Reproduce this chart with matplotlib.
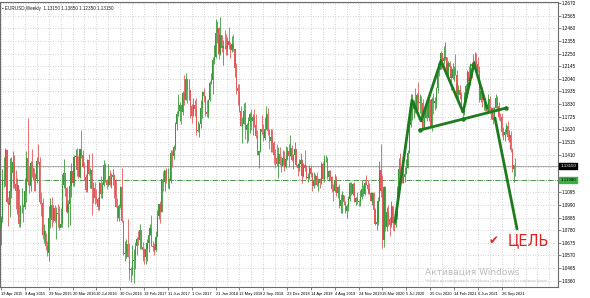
import numpy as np
import matplotlib.pyplot as plt

# EURUSD weekly candles, first bar = week of 19 Apr 2015
first_open = 1.0810
closes = [
    1.0873, 1.1198, 1.1200, 1.1447, 1.1015, 1.0986, 1.1110, 1.1260, 1.1350, 1.1165,
    1.1110, 1.1160, 1.0830, 1.0980, 1.0985, 1.0970, 1.1105, 1.1385, 1.1185, 1.1150,
    1.1340, 1.1295, 1.1195, 1.1210, 1.1360, 1.1350, 1.1015, 1.1005, 1.0740, 1.0770,
    1.0645, 1.0590, 1.0880, 1.0990, 1.0865, 1.0965, 1.0860, 1.0920, 1.0915, 1.0800,
    1.0830, 1.1155, 1.1255, 1.1130, 1.0930, 1.1000, 1.1150, 1.1270, 1.1170, 1.1390,
    1.1400, 1.1285, 1.1225, 1.1455, 1.1405, 1.1310, 1.1220, 1.1115, 1.1365, 1.1250,
    1.1280, 1.1120, 1.1135, 1.1050, 1.1040, 1.0975, 1.1175, 1.1085, 1.1160, 1.1325,
    1.1195, 1.1155, 1.1230, 1.1155, 1.1225, 1.1240, 1.1200, 1.0970, 1.0880, 1.0985,
    1.1140, 1.0855, 1.0585, 1.0590, 1.0665, 1.0560, 1.0450, 1.0455, 1.0520, 1.0530,
    1.0645, 1.0705, 1.0695, 1.0785, 1.0640, 1.0615, 1.0560, 1.0620, 1.0670, 1.0740,
    1.0800, 1.0650, 1.0640, 1.0615, 1.0725, 1.0895, 1.0995, 1.0935, 1.1205, 1.1180,
    1.1280, 1.1195, 1.1195, 1.1195, 1.1425, 1.1400, 1.1470, 1.1665, 1.1750, 1.1775,
    1.1820, 1.1760, 1.1925, 1.1860, 1.2035, 1.1945, 1.1950, 1.1815, 1.1730, 1.1820,
    1.1785, 1.1605, 1.1610, 1.1665, 1.1795, 1.1930, 1.1895, 1.1765, 1.1745, 1.1860,
    1.2005, 1.2030, 1.2200, 1.2220, 1.2425, 1.2460, 1.2250, 1.2405, 1.2295, 1.2315,
    1.2310, 1.2290, 1.2355, 1.2325, 1.2280, 1.2330, 1.2290, 1.2130, 1.1960, 1.1940,
    1.1770, 1.1650, 1.1660, 1.1770, 1.1610, 1.1655, 1.1685, 1.1745, 1.1685, 1.1720,
    1.1655, 1.1565, 1.1410, 1.1440, 1.1620, 1.1600, 1.1550, 1.1625, 1.1745, 1.1605,
    1.1525, 1.1560, 1.1510, 1.1405, 1.1385, 1.1335, 1.1415, 1.1335, 1.1315, 1.1380,
    1.1305, 1.1370, 1.1440, 1.1395, 1.1465, 1.1365, 1.1405, 1.1455, 1.1325, 1.1295,
    1.1335, 1.1365, 1.1235, 1.1325, 1.1300, 1.1215, 1.1215, 1.1300, 1.1245, 1.1150,
    1.1200, 1.1235, 1.1155, 1.1205, 1.1170, 1.1335, 1.1210, 1.1370, 1.1370, 1.1225,
    1.1270, 1.1220, 1.1125, 1.1110, 1.1200, 1.1090, 1.1140, 1.0985, 1.1030, 1.1075,
    1.1015, 1.0940, 1.0980, 1.1040, 1.1170, 1.1080, 1.1165, 1.1015, 1.1050, 1.1020,
    1.1015, 1.1060, 1.1120, 1.1080, 1.1175, 1.1160, 1.1120, 1.1090, 1.1025, 1.1090,
    1.0945, 1.0830, 1.0845, 1.1025, 1.1285, 1.1105, 1.0695, 1.1140, 1.0805, 1.0935,
    1.0875, 1.0820, 1.0980, 1.0840, 1.0820, 1.0900, 1.1100, 1.1290, 1.1255, 1.1175,
    1.1220, 1.1245, 1.1300, 1.1425, 1.1655, 1.1780, 1.1785, 1.1840, 1.1795, 1.1905,
    1.1835, 1.1845, 1.1840, 1.1630, 1.1715, 1.1825, 1.1715, 1.1860, 1.1645, 1.1875,
    1.1835, 1.1855, 1.1965, 1.2120, 1.2110, 1.2255, 1.2185, 1.2215, 1.2220, 1.2080,
    1.2170, 1.2135, 1.2045, 1.2120, 1.2120, 1.2075, 1.1915, 1.1950, 1.1905, 1.1795,
    1.1760, 1.1900, 1.1980, 1.2095, 1.2020, 1.2165, 1.2145, 1.2180, 1.2190, 1.2165,
    1.2105, 1.1860, 1.1935, 1.1865, 1.1875, 1.1805, 1.1770, 1.1870, 1.1760, 1.1795,
    1.1700, 1.1795, 1.1880, 1.1815, 1.1725, 1.1720, 1.1595, 1.1570, 1.1600, 1.1645,
    1.1560, 1.1570, 1.1445, 1.1290, 1.1320, 1.1315,
]
highs = [
    1.0900, 1.1290, 1.1391, 1.1467, 1.1440, 1.1060, 1.1385, 1.1386, 1.1436, 1.1408,
    1.1278, 1.1215, 1.1120, 1.0990, 1.1128, 1.1000, 1.1215, 1.1440, 1.1715, 1.1312,
    1.1360, 1.1460, 1.1295, 1.1260, 1.1390, 1.1495, 1.1390, 1.1095, 1.1045, 1.0830,
    1.0760, 1.0690, 1.0985, 1.1045, 1.1060, 1.0990, 1.0990, 1.0970, 1.0995, 1.0985,
    1.0965, 1.1245, 1.1375, 1.1260, 1.1140, 1.1030, 1.1215, 1.1340, 1.1290, 1.1410,
    1.1455, 1.1465, 1.1400, 1.1460, 1.1615, 1.1445, 1.1345, 1.1245, 1.1375, 1.1415,
    1.1300, 1.1425, 1.1185, 1.1185, 1.1120, 1.1060, 1.1185, 1.1235, 1.1180, 1.1365,
    1.1340, 1.1210, 1.1330, 1.1285, 1.1255, 1.1290, 1.1250, 1.1205, 1.1050, 1.1000,
    1.1145, 1.1300, 1.0865, 1.0690, 1.0710, 1.0875, 1.0670, 1.0475, 1.0655, 1.0625,
    1.0685, 1.0720, 1.0775, 1.0830, 1.0775, 1.0680, 1.0635, 1.0630, 1.0705, 1.0785,
    1.0830, 1.0905, 1.0690, 1.0675, 1.0775, 1.0950, 1.1000, 1.1025, 1.1210, 1.1270,
    1.1285, 1.1295, 1.1295, 1.1215, 1.1445, 1.1445, 1.1490, 1.1680, 1.1775, 1.1910,
    1.1845, 1.1825, 1.1940, 1.2070, 1.2090, 1.2035, 1.2035, 1.1950, 1.1830, 1.1880,
    1.1860, 1.1880, 1.1690, 1.1670, 1.1860, 1.1940, 1.1960, 1.1880, 1.1865, 1.1875,
    1.2025, 1.2090, 1.2220, 1.2325, 1.2535, 1.2520, 1.2475, 1.2555, 1.2405, 1.2365,
    1.2445, 1.2410, 1.2390, 1.2475, 1.2345, 1.2395, 1.2415, 1.2290, 1.2175, 1.1995,
    1.1995, 1.1815, 1.1720, 1.1840, 1.1850, 1.1675, 1.1720, 1.1760, 1.1790, 1.1745,
    1.1790, 1.1745, 1.1610, 1.1450, 1.1625, 1.1735, 1.1660, 1.1720, 1.1815, 1.1795,
    1.1625, 1.1620, 1.1620, 1.1525, 1.1455, 1.1500, 1.1475, 1.1470, 1.1400, 1.1445,
    1.1440, 1.1485, 1.1470, 1.1500, 1.1570, 1.1490, 1.1415, 1.1515, 1.1460, 1.1340,
    1.1370, 1.1420, 1.1375, 1.1340, 1.1450, 1.1325, 1.1255, 1.1325, 1.1325, 1.1265,
    1.1265, 1.1250, 1.1265, 1.1215, 1.1215, 1.1350, 1.1350, 1.1410, 1.1410, 1.1390,
    1.1285, 1.1285, 1.1230, 1.1165, 1.1250, 1.1230, 1.1150, 1.1165, 1.1085, 1.1110,
    1.1075, 1.1025, 1.1000, 1.1065, 1.1180, 1.1180, 1.1175, 1.1180, 1.1055, 1.1095,
    1.1035, 1.1115, 1.1200, 1.1155, 1.1190, 1.1240, 1.1200, 1.1175, 1.1100, 1.1095,
    1.1100, 1.0965, 1.0865, 1.1055, 1.1355, 1.1495, 1.1240, 1.1145, 1.1145, 1.0970,
    1.0990, 1.0890, 1.1020, 1.0980, 1.0875, 1.1010, 1.1145, 1.1385, 1.1425, 1.1350,
    1.1350, 1.1305, 1.1370, 1.1450, 1.1660, 1.1910, 1.1915, 1.1865, 1.1965, 1.1925,
    1.2010, 1.1915, 1.1900, 1.1870, 1.1770, 1.1830, 1.1880, 1.1880, 1.1860, 1.1890,
    1.1920, 1.1890, 1.1970, 1.2175, 1.2165, 1.2275, 1.2250, 1.2310, 1.2350, 1.2225,
    1.2190, 1.2190, 1.2150, 1.2170, 1.2145, 1.2245, 1.2110, 1.1990, 1.1990, 1.1930,
    1.1810, 1.1930, 1.1995, 1.2115, 1.2150, 1.2170, 1.2180, 1.2245, 1.2265, 1.2255,
    1.2220, 1.2145, 1.1970, 1.1975, 1.1895, 1.1880, 1.1830, 1.1910, 1.1900, 1.1805,
    1.1805, 1.1805, 1.1910, 1.1895, 1.1850, 1.1755, 1.1755, 1.1640, 1.1625, 1.1670,
    1.1690, 1.1615, 1.1605, 1.1465, 1.1325, 1.1385,
]
lows = [
    1.0660, 1.0845, 1.1140, 1.1145, 1.1010, 1.0819, 1.0886, 1.1050, 1.1135, 1.1130,
    1.0955, 1.0915, 1.0808, 1.0807, 1.0925, 1.0848, 1.0957, 1.1017, 1.1155, 1.1087,
    1.1105, 1.1220, 1.1105, 1.1105, 1.1170, 1.1330, 1.1000, 1.0895, 1.0710, 1.0675,
    1.0615, 1.0565, 1.0525, 1.0800, 1.0805, 1.0850, 1.0850, 1.0710, 1.0805, 1.0780,
    1.0810, 1.0810, 1.1135, 1.1065, 1.0925, 1.0810, 1.0820, 1.1055, 1.1145, 1.1145,
    1.1325, 1.1235, 1.1215, 1.1215, 1.1385, 1.1305, 1.1200, 1.1100, 1.1100, 1.1240,
    1.1130, 1.0910, 1.1010, 1.1000, 1.1010, 1.0950, 1.0950, 1.1045, 1.1045, 1.1150,
    1.1185, 1.1120, 1.1150, 1.1145, 1.1135, 1.1155, 1.1050, 1.0970, 1.0855, 1.0860,
    1.0965, 1.0850, 1.0570, 1.0520, 1.0545, 1.0555, 1.0365, 1.0350, 1.0405, 1.0340,
    1.0455, 1.0570, 1.0660, 1.0620, 1.0620, 1.0520, 1.0495, 1.0495, 1.0525, 1.0600,
    1.0740, 1.0645, 1.0605, 1.0570, 1.0605, 1.0820, 1.0875, 1.0840, 1.0930, 1.1110,
    1.1110, 1.1170, 1.1130, 1.1120, 1.1170, 1.1310, 1.1370, 1.1450, 1.1610, 1.1730,
    1.1690, 1.1660, 1.1740, 1.1820, 1.1860, 1.1835, 1.1860, 1.1715, 1.1670, 1.1730,
    1.1730, 1.1575, 1.1600, 1.1555, 1.1630, 1.1710, 1.1845, 1.1730, 1.1720, 1.1715,
    1.1855, 1.1995, 1.1915, 1.2165, 1.2210, 1.2335, 1.2205, 1.2235, 1.2260, 1.2155,
    1.2290, 1.2240, 1.2240, 1.2285, 1.2215, 1.2260, 1.2270, 1.2055, 1.1910, 1.1820,
    1.1760, 1.1645, 1.1510, 1.1660, 1.1540, 1.1505, 1.1525, 1.1590, 1.1610, 1.1575,
    1.1635, 1.1550, 1.1405, 1.1300, 1.1430, 1.1585, 1.1525, 1.1530, 1.1620, 1.1570,
    1.1460, 1.1430, 1.1430, 1.1335, 1.1300, 1.1315, 1.1215, 1.1325, 1.1265, 1.1320,
    1.1270, 1.1300, 1.1365, 1.1310, 1.1400, 1.1355, 1.1290, 1.1400, 1.1315, 1.1235,
    1.1275, 1.1325, 1.1175, 1.1225, 1.1275, 1.1210, 1.1185, 1.1205, 1.1225, 1.1110,
    1.1135, 1.1160, 1.1150, 1.1105, 1.1135, 1.1165, 1.1205, 1.1180, 1.1345, 1.1205,
    1.1190, 1.1200, 1.1100, 1.1025, 1.1095, 1.1065, 1.1050, 1.0965, 1.0925, 1.0925,
    1.0990, 1.0925, 1.0880, 1.0940, 1.1020, 1.1070, 1.1070, 1.1015, 1.0990, 1.1000,
    1.0980, 1.0980, 1.1040, 1.1065, 1.1070, 1.1155, 1.1085, 1.1085, 1.1020, 1.0990,
    1.0940, 1.0825, 1.0780, 1.0820, 1.1020, 1.1055, 1.0635, 1.0640, 1.0770, 1.0770,
    1.0815, 1.0730, 1.0810, 1.0780, 1.0775, 1.0810, 1.0870, 1.1095, 1.1215, 1.1170,
    1.1170, 1.1185, 1.1255, 1.1300, 1.1420, 1.1640, 1.1695, 1.1710, 1.1755, 1.1755,
    1.1780, 1.1755, 1.1735, 1.1610, 1.1625, 1.1715, 1.1690, 1.1690, 1.1640, 1.1605,
    1.1745, 1.1780, 1.1800, 1.1925, 1.2060, 1.2125, 1.2130, 1.2160, 1.2195, 1.2075,
    1.2055, 1.2060, 1.1950, 1.2040, 1.2025, 1.2070, 1.1895, 1.1835, 1.1875, 1.1760,
    1.1705, 1.1740, 1.1870, 1.1970, 1.2020, 1.1985, 1.2050, 1.2135, 1.2135, 1.2105,
    1.2095, 1.1845, 1.1850, 1.1805, 1.1780, 1.1775, 1.1750, 1.1755, 1.1755, 1.1705,
    1.1665, 1.1695, 1.1795, 1.1775, 1.1700, 1.1685, 1.1565, 1.1530, 1.1525, 1.1585,
    1.1535, 1.1515, 1.1430, 1.1265, 1.1185, 1.1235,
]
opens = [first_open] + closes[:-1]   # weekly FX bars open at the previous close

date_labels = ["19 Apr 2015", "9 Aug 2015", "29 Nov 2015", "20 Mar 2016", "10 Jul 2016",
               "30 Oct 2016", "19 Feb 2017", "11 Jun 2017", "1 Oct 2017", "21 Jan 2018",
               "13 May 2018", "2 Sep 2018", "23 Dec 2018", "14 Apr 2019", "4 Aug 2019",
               "24 Nov 2019", "15 Mar 2020", "5 Jul 2020", "25 Oct 2020", "14 Feb 2021",
               "6 Jun 2021", "26 Sep 2021"]
price_ticks = [1.2670, 1.2565, 1.2460, 1.2355, 1.2250, 1.2145, 1.2040, 1.1935, 1.1830,
               1.1725, 1.1620, 1.1515, 1.1410, 1.1305, 1.1200, 1.1095, 1.0990, 1.0885,
               1.0780, 1.0675, 1.0570, 1.0465, 1.0360]
level_price = 1.1198

# hand-drawn pattern lines (week index, price)
zigzag_w = [264.4, 275.8, 281.9, 295.3, 310.1, 317.4, 326.2]
zigzag_p = [1.0848, 1.1864, 1.1689, 1.2190, 1.1764, 1.2170, 1.1797]
neck_w = [281.2, 310.0, 338.9]
neck_p = [1.1614, 1.1705, 1.1797]
target_w = [331.5, 346.3]
target_p = [1.1714, 1.0790]

green_c = '#3a9a3a'
red_c = '#e05a5a'
tick_font = 'Liberation Sans'

fig = plt.figure(figsize=(5.9, 2.98), dpi=100)
ax = fig.add_axes([0.0, 11 / 298, 558 / 590, 285.5 / 298])

x = np.arange(len(closes))
o = np.array(opens)
c = np.array(closes)
cols = [green_c if cc >= oo else red_c for oo, cc in zip(o, c)]
ax.vlines(x, lows, highs, colors=cols, lw=0.6, zorder=3)
body = np.where(np.abs(c - o) < 0.0004, 0.0004, c - o)
ax.bar(x, body, bottom=o, width=0.75, color=cols, lw=0, zorder=3)

ax.set_xlim(-0.67, 373.8)
ax.set_ylim(1.0307, 1.2684)

# grid
for g in np.arange(0, 374, 8):
    ax.axvline(g, color='#c4c4c4', lw=0.6, ls=(0, (1, 2)), zorder=1)
for t in price_ticks:
    ax.axhline(t, color='#c4c4c4', lw=0.6, ls=(0, (1, 2)), zorder=1)

ax.set_xticks(np.arange(len(date_labels)) * 16)
ax.set_xticklabels(date_labels, fontsize=2.9, ha='left', family=tick_font)
ax.tick_params(axis='x', length=2, width=0.5, pad=1.5, color='#555555')
ax.yaxis.tick_right()
ax.set_yticks(price_ticks)
# labels under the price boxes are hidden, as on the terminal
ylabels = ['' if abs(t - closes[-1]) < 0.004 or abs(t - level_price) < 0.004 else '%.4f' % t
           for t in price_ticks]
ax.set_yticklabels(ylabels, fontsize=3.3, family=tick_font)
ax.tick_params(axis='y', length=2, width=0.5, pad=1, color='#555555')
for s in ax.spines.values():
    s.set_color('#6b6b6b')
    s.set_linewidth(0.8)

# current price and level lines
ax.axhline(closes[-1], color='#a8a8a8', lw=0.7, zorder=2)
ax.axhline(level_price, color='#2e8b2e', lw=0.6, ls='-.', zorder=2)
ax.text(1.004, closes[-1], '%.5f' % closes[-1], transform=ax.get_yaxis_transform(),
        fontsize=3.2, color='white', va='center', ha='left', family=tick_font,
        bbox=dict(boxstyle='square,pad=0.3', fc='black', ec='black'), zorder=6, clip_on=False)
ax.text(1.004, level_price, '%.5f' % level_price, transform=ax.get_yaxis_transform(),
        fontsize=3.2, color='black', va='center', ha='left', family=tick_font,
        bbox=dict(boxstyle='square,pad=0.3', fc='#3cb043', ec='#3cb043'), zorder=6, clip_on=False)

# pattern lines
lc = '#1e7b1e'
ax.plot(zigzag_w, zigzag_p, color=lc, lw=2.0, zorder=5, solid_capstyle='round')
ax.plot(neck_w, neck_p, color=lc, lw=2.0, zorder=5, marker='o', ms=2.2)
ax.plot(target_w, target_p, color=lc, lw=2.0, zorder=5, solid_capstyle='round')

ax.text(494 / 558, 1 - 239 / 285.5, '✔', transform=ax.transAxes, color='#e02020',
        fontsize=8.5, ha='center', va='center', zorder=6)
ax.text(508 / 558, 1 - 239 / 285.5, 'ЦЕЛЬ', transform=ax.transAxes, color='#e02020',
        fontsize=10.5, ha='left', va='center', zorder=6)

# header
ax.text(0.004, 0.985, '\u25aa EURUSD,Weekly  1.13150 1.13850 1.12350 1.13150',
        transform=ax.transAxes, fontsize=3.3, ha='left', va='top', color='#202020',
        family=tick_font)

# windows watermark
fig.text(425 / 590, 1 - 272 / 298, 'Активация Windows', fontsize=6.5, color='#bcbcbc',
         ha='left', va='center')
fig.text(425 / 590, 1 - 281 / 298, 'Чтобы активировать Windows, перейдите к параметрам',
         fontsize=3.0, color='#c4c4c4', ha='left', va='center')

fig.savefig('out.png', dpi=100, facecolor='white')
